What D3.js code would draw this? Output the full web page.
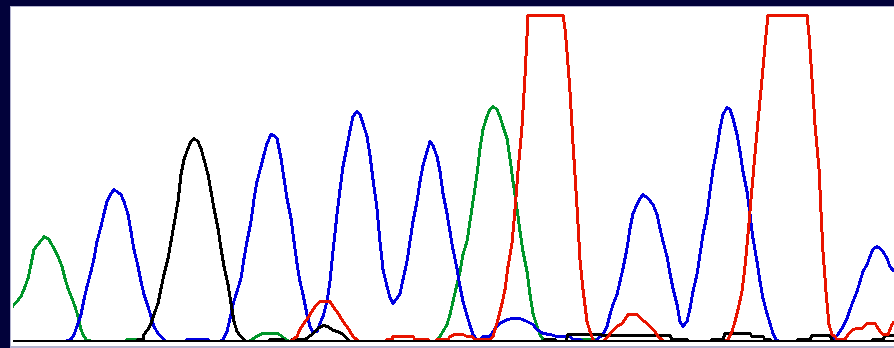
<!DOCTYPE html>
<html>
<head>
<meta charset="utf-8">
<script src="https://cdn.jsdelivr.net/npm/d3@7.9.0/dist/d3.min.js"></script>
<style>
  html, body { margin: 0; padding: 0; background: #02023a; }
  svg { display: block; }
</style>
</head>
<body>
<svg id="chart" width="894" height="348"></svg>
<script>
// chromatogram traces, [position, signal]
const traceA = [[0,0],[13,36],[17,40],[21,45],[24,52],[28,63],[31,77],[34,92],[38,97],[42,102],[44,105],[49,102],[54,93],[58,85],[62,75],[65,63],[68,53],[72,43],[75,35],[78,25],[81,12],[84,5],[87,1],[95,0],[125,0],[127,2],[138,2],[140,0],[248,0],[252,2],[258,6],[263,8],[278,8],[282,5],[286,2],[290,0],[435,0],[440,5],[447,17],[450,27],[453,40],[457,57],[460,70],[463,87],[467,100],[470,120],[473,140],[477,167],[480,193],[483,212],[487,225],[490,232],[493,235],[497,232],[500,225],[503,215],[507,203],[510,183],[513,160],[517,133],[520,110],[523,90],[527,70],[530,47],[533,28],[537,15],[540,7],[543,2],[553,2],[555,0],[580,0],[582,2],[595,2],[597,0],[894,0]];

const traceC = [[0,0],[65,0],[71,2],[74,7],[77,15],[81,27],[84,42],[87,55],[91,70],[94,83],[97,100],[101,115],[104,128],[107,140],[111,148],[114,152],[118,149],[121,147],[124,140],[128,127],[131,110],[134,92],[138,75],[141,60],[144,47],[148,35],[151,25],[154,15],[158,8],[161,5],[164,2],[166,0],[185,0],[187,2],[208,2],[210,0],[220,0],[223,2],[227,10],[230,23],[233,37],[237,50],[241,63],[244,83],[247,100],[251,120],[254,142],[257,160],[261,175],[264,187],[267,198],[271,207],[274,206],[277,203],[281,183],[284,163],[287,143],[291,123],[294,100],[297,78],[300,60],[303,47],[307,27],[310,15],[313,9],[317,10],[320,18],[323,25],[327,40],[330,60],[333,90],[337,127],[340,152],[343,175],[347,195],[350,211],[353,225],[357,230],[360,227],[363,218],[367,205],[370,186],[373,162],[377,133],[380,100],[383,72],[387,55],[390,44],[393,38],[397,43],[400,48],[403,62],[407,80],[410,100],[413,120],[417,140],[420,160],[423,176],[427,190],[430,200],[433,196],[437,185],[440,170],[443,148],[447,128],[450,110],[453,92],[457,73],[460,55],[463,40],[467,26],[470,16],[473,7],[477,2],[480,2],[483,5],[490,5],[493,10],[497,15],[500,18],[507,22],[513,23],[520,23],[527,20],[533,17],[537,12],[543,8],[550,7],[557,5],[570,5],[573,2],[580,2],[583,0],[595,0],[598,3],[603,7],[607,15],[610,27],[613,37],[617,47],[620,60],[623,73],[627,93],[630,113],[633,128],[637,137],[640,143],[643,147],[648,143],[653,137],[657,127],[660,113],[663,100],[667,85],[670,68],[673,53],[677,37],[680,20],[683,15],[687,20],[690,33],[693,50],[697,67],[700,87],[703,107],[707,127],[710,150],[713,172],[717,193],[720,213],[723,227],[727,234],[730,232],[733,223],[737,207],[740,190],[743,170],[747,150],[750,127],[753,103],[757,80],[760,60],[763,43],[767,28],[770,18],[773,8],[776,2],[779,0],[830,0],[833,2],[838,7],[843,15],[847,23],[850,32],[853,40],[857,50],[860,60],[863,70],[867,77],[870,85],[873,92],[877,95],[880,93],[883,90],[887,83],[890,75],[894,70]];

const traceG = [[0,0],[136,0],[138,2],[143,2],[144,7],[148,12],[151,18],[154,27],[158,38],[161,53],[164,67],[168,83],[171,100],[174,117],[178,140],[181,167],[184,182],[188,193],[191,200],[194,203],[198,200],[201,193],[204,182],[208,167],[211,150],[214,133],[218,113],[221,93],[224,75],[228,57],[231,38],[234,20],[237,10],[241,5],[244,2],[246,0],[268,0],[270,2],[283,2],[285,0],[290,0],[292,2],[305,2],[312,7],[318,13],[323,16],[328,15],[333,11],[338,10],[343,7],[348,2],[350,0],[543,0],[545,2],[555,2],[557,0],[566,0],[568,7],[600,7],[603,6],[670,6],[672,2],[687,2],[689,0],[710,0],[712,2],[723,2],[725,8],[750,8],[752,5],[763,5],[765,2],[770,2],[772,0],[796,0],[798,2],[810,2],[812,6],[830,6],[832,2],[834,0],[871,0],[873,2],[883,2],[885,6],[894,6]];

const traceT = [[0,0],[290,0],[293,2],[297,5],[300,12],[303,17],[307,22],[310,27],[313,32],[317,37],[320,40],[330,40],[333,35],[337,30],[340,25],[343,20],[347,15],[350,10],[353,5],[357,2],[359,0],[385,0],[387,2],[392,2],[393,5],[413,5],[415,2],[428,2],[430,0],[435,0],[437,2],[448,2],[450,5],[455,7],[463,7],[467,5],[472,5],[475,2],[490,2],[493,5],[495,12],[498,22],[502,38],[505,52],[508,75],[512,98],[515,132],[518,170],[522,215],[525,265],[528,326],[535,360],[545,370],[555,360],[563,326],[565,313],[567,290],[570,250],[573,198],[577,135],[580,82],[583,52],[587,20],[590,10],[593,2],[595,0],[603,0],[605,2],[608,5],[612,10],[617,15],[622,18],[625,22],[628,27],[637,27],[642,22],[647,18],[650,15],[655,10],[658,5],[662,2],[664,0],[725,0],[728,2],[732,10],[735,20],[738,32],[742,50],[745,75],[748,107],[751,142],[754,176],[758,220],[762,262],[765,296],[768,326],[775,360],[790,370],[800,360],[807,326],[809,307],[812,263],[815,217],[819,173],[821,130],[823,90],[826,50],[829,17],[832,7],[835,5],[837,2],[845,2],[848,7],[853,12],[857,13],[862,13],[867,18],[875,18],[877,15],[880,10],[883,7],[888,7],[892,17],[894,20]];

const traces = [
  { name: 'A', data: traceA, color: '#00962a' },
  { name: 'C', data: traceC, color: '#0000e0' },
  { name: 'G', data: traceG, color: '#000000' },
  { name: 'T', data: traceT, color: '#e81400' }
];

const W = 894, H = 348;
const svg = d3.select('#chart');

// window frame
svg.append('rect').attr('width', W).attr('height', H).attr('fill', '#02023a');
svg.append('rect').attr('x', 10).attr('y', 6).attr('width', W - 10).attr('height', H - 6).attr('fill', '#b4b4d0');
svg.append('rect').attr('x', 11).attr('y', 7).attr('width', W - 11).attr('height', 339).attr('fill', '#ffffff');

// traces end at the baseline
svg.append('clipPath').attr('id', 'plot')
  .append('rect').attr('x', 13).attr('y', 7).attr('width', W - 13).attr('height', 333);

const x = d3.scaleLinear().domain([0, 894]).range([0, 894]);
// signal saturates at the top of the view
const y = d3.scaleLinear().domain([0, 326]).range([341.5, 15.5]).clamp(true);

const line = d3.line()
  .x(d => x(d[0]))
  .y(d => y(d[1]))
  .curve(d3.curveLinear);

const g = svg.append('g').attr('clip-path', 'url(#plot)');

g.selectAll('path.trace')
  .data(traces)
  .join('path')
  .attr('class', 'trace')
  .attr('d', d => line(d.data))
  .attr('fill', 'none')
  .attr('stroke', d => d.color)
  .attr('stroke-width', 3)
  .attr('stroke-linejoin', 'round')
  .attr('shape-rendering', 'crispEdges');

// baseline
svg.append('rect')
  .attr('x', 13).attr('y', 340)
  .attr('width', W - 13).attr('height', 2)
  .attr('fill', '#000000');
</script>
</body>
</html>
